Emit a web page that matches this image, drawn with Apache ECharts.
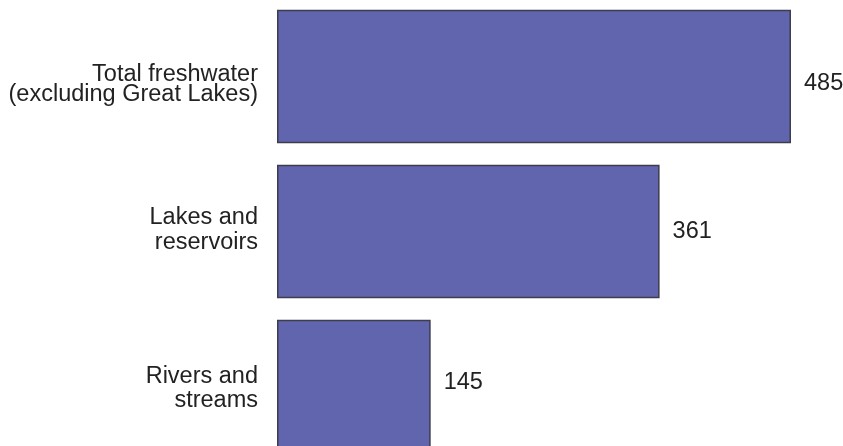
<!DOCTYPE html>
<html><head><meta charset="utf-8">
<script src="https://cdn.jsdelivr.net/npm/echarts@6/dist/echarts.min.js"></script>
<style>html,body{margin:0;padding:0;background:#fff;overflow:hidden;width:843px;height:446px}#c{width:843px;height:465px;margin-top:-1px}</style>
</head><body><div id="c"></div>
<script>
const categories = ["Total freshwater\n(excluding Great Lakes)", "Lakes and\nreservoirs", "Rivers and\nstreams"];
const values = [485, 361, 145];

// per-category line heights [line1, line2] (style only)
const lineHeights = [[37, 3], [23, 27], [29, 19]];
const valueOffsets = [[0, 7], [0, 0], [0, -4]];

const FONT = 'Liberation Sans, Arial, sans-serif';
const rich = {};
lineHeights.forEach((lh, i) => {
  lh.forEach((h, j) => {
    rich['c' + i + 'l' + j] = {fontFamily: FONT, fontSize: 23.5, color: '#222', lineHeight: h, align: 'right'};
  });
});

const chart = echarts.init(document.getElementById('c'), null, {renderer: 'canvas'});
chart.setOption({
  animation: false,
  grid: {left: 277, top: 0, right: 52, bottom: 0, containLabel: false},
  xAxis: {type: 'value', min: 0, max: 485, show: false},
  yAxis: {
    type: 'category', inverse: true, data: categories,
    axisLine: {show: false}, axisTick: {show: false},
    axisLabel: {
      fontFamily: FONT, fontSize: 23.5, color: '#222', margin: 19, align: 'right',
      formatter: (v, i) => v.split('\n').map((s, j) => '{c' + i + 'l' + j + '|' + s + '}').join('\n'),
      rich: rich
    }
  },
  series: [{
    type: 'bar', barCategoryGap: '14%',
    data: values.map((v, i) => ({value: v, label: {offset: valueOffsets[i]}})),
    itemStyle: {color: '#6065ad', borderColor: '#3d3d4d', borderWidth: 1.5},
    label: {show: true, position: 'right', distance: 13, fontFamily: FONT, fontSize: 23.5, color: '#222'}
  }]
});
</script></body></html>
